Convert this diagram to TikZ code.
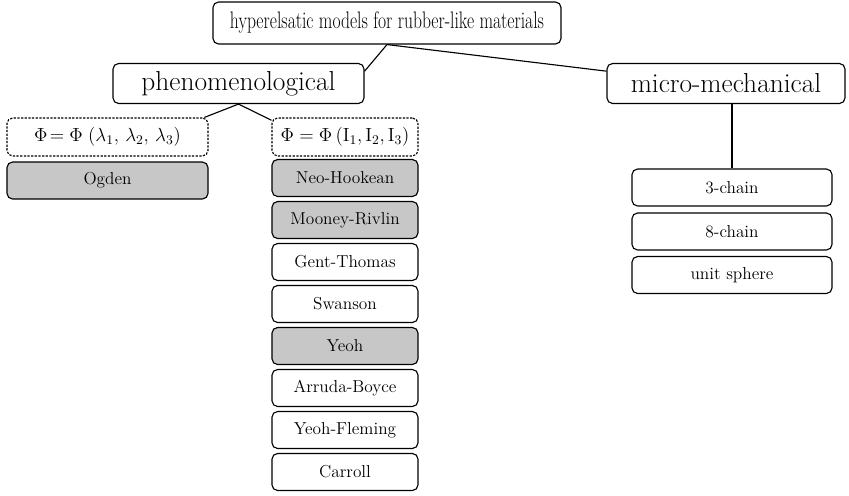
\documentclass[tikz,border=0pt]{standalone}
\usepackage{fix-cm}
\usepackage{graphicx}
\usepackage{tikz}
\usetikzlibrary{calc}

\begin{document}
\begin{tikzpicture}[x=0.025cm, y=-0.025cm,
  box/.style={draw, rounded corners=4pt, line width=0.8pt, align=center,
              font=\fontsize{12.3}{14}\selectfont, inner sep=1pt,
              minimum height=0.925cm, minimum width=#1},
  box/.default=3.65cm,
  head/.style={box=#1, minimum height=1cm, font=\fontsize{19.5}{22}\selectfont},
  head/.default=6cm,
  frm/.style={box=#1, dash pattern=on 1.6pt off 1pt, minimum height=0.95cm,
              font=\fontsize{13.5}{15}\selectfont},
  frm/.default=3.65cm,
  shd/.style={fill=black!22},
  link/.style={line width=0.8pt}]
  \useasboundingbox (0,0) rectangle (849,495);
  % row 1: the root and its two families
  \node[head=8.7cm, minimum height=1.05cm] (root)  at (387,23)    {\resizebox{7.85cm}{\height}{\fontsize{17}{20}\selectfont hyperelsatic models for rubber-like materials}};
  \node[head=6.275cm]                     (phen)  at (238.5,83.5) {phenomenological};
  \node[head=5.95cm]                      (micro) at (726,83.5)   {micro-mechanical};
  % row 2: the two kinds of strain energy
  \node[frm=5.025cm] (lam) at (107.5,137) {$\Phi\!= \Phi\;(\lambda_1,\,\lambda_2,\,\lambda_3)$};
  \node[frm]         (inv) at (345,137)   {$\Phi = \Phi\,(\mathrm{I}_1, \mathrm{I}_2, \mathrm{I}_3)$};
  % stretch based
  \node[box=5.025cm, shd] (ogden) at (107.5,180.5) {Ogden};
  % invariant based
  \node[box, shd] (neo)     at (345,178) {Neo-Hookean};
  \node[box, shd] (mooney)  at (345,220) {Mooney-Rivlin};
  \node[box]      (gent)    at (345,262) {Gent-Thomas};
  \node[box]      (swanson) at (345,304) {Swanson};
  \node[box, shd] (yeoh)    at (345,346) {Yeoh};
  \node[box]      (arruda)  at (345,388) {Arruda-Boyce};
  \node[box]      (fleming) at (345,430) {Yeoh-Fleming};
  \node[box]      (carroll) at (345,472) {Carroll};
  % network models
  \node[box=5cm] (chain3) at (732,187.5) {3-chain};
  \node[box=5cm] (chain8) at (732,231.5) {8-chain};
  \node[box=5cm] (sphere) at (732,275)   {unit sphere};
  \draw[link] (root.south) -- ($(phen.north east)!0.2!(phen.south east)$);
  \draw[link] (root.south) -- ($(micro.north west)!0.2!(micro.south west)$);
  \draw[link] ([xshift=-3pt]lam.north east) -- (phen.south) -- ([yshift=-2pt]inv.north west);
  \draw[link] (chain3.north) -- (chain3.north |- micro.south);
\end{tikzpicture}
\end{document}
